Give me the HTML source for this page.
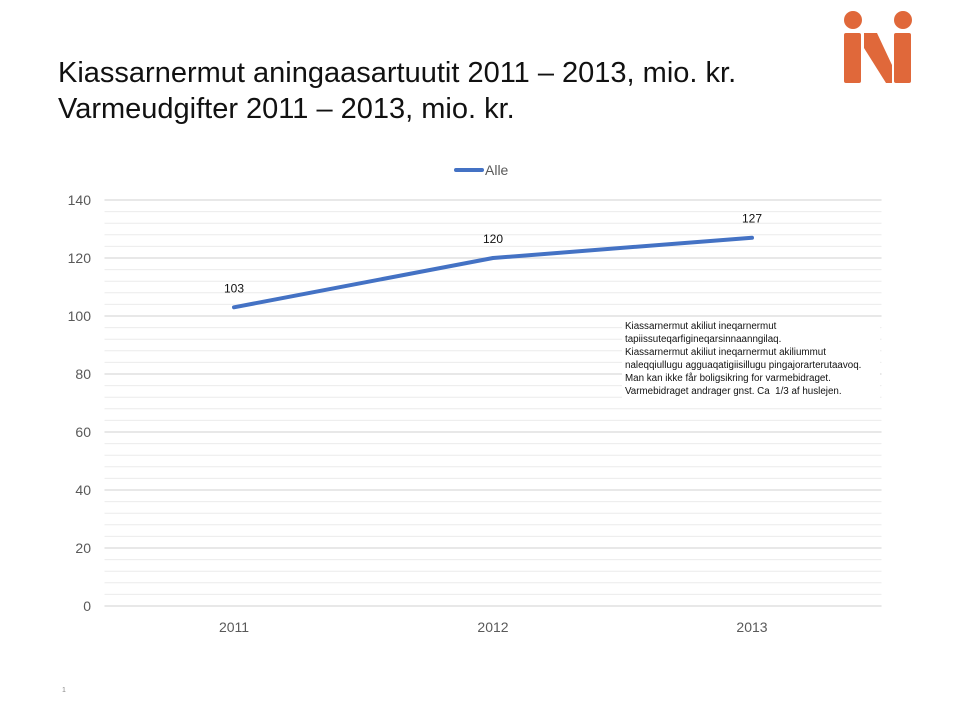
<!DOCTYPE html>
<html><head><meta charset="utf-8"><style>
body{margin:0;width:960px;height:720px;background:#fff;font-family:"Liberation Sans",sans-serif;position:relative;overflow:hidden}
.title{position:absolute;left:58px;top:55px;font-size:29px;line-height:36px;color:#111}
.note{position:absolute;left:622px;top:319px;width:252px;background:#fff;font-size:9.8px;line-height:13px;color:#111;padding:1px 3px}
</style></head><body>
<div class="title">Kiassarnermut aningaasartuutit 2011 – 2013, mio. kr.<br>Varmeudgifter 2011 – 2013, mio. kr.</div>
<svg style="position:absolute;left:842px;top:10px" width="72" height="74" viewBox="0 0 72 74">
<g fill="#e0683a">
<circle cx="11" cy="10" r="9"/><circle cx="61" cy="10" r="9"/>
<rect x="2" y="23" width="17" height="50" rx="2"/>
<rect x="52" y="23" width="17" height="50" rx="2"/>
<polygon points="22,23 35,23 50,55 50,73 44,73 22,38"/>
</g></svg>
<svg id="chart" width="960" height="720" style="position:absolute;left:0;top:0"></svg>
<div class="note">Kiassarnermut akiliut ineqarnermut<br>tapiissuteqarfigineqarsinnaanngilaq.<br>Kiassarnermut akiliut ineqarnermut akiliummut<br>naleqqiullugu agguaqatigiisillugu pingajorarterutaavoq.<br>Man kan ikke får boligsikring for varmebidraget.<br>Varmebidraget andrager gnst. Ca&nbsp; 1/3 af huslejen.</div>
<script>
const categories=["2011","2012","2013"];
const values=[103,120,127];
const yTicks=[0,20,40,60,80,100,120,140];
const seriesName="Alle";
const svg=document.getElementById('chart');
const NS="http://www.w3.org/2000/svg";
const x0=104.5,x1=881.5,yBase=606,yTop=200,yMax=140;
const y=v=>yBase-(v/yMax)*(yBase-yTop);
const bw=(x1-x0)/categories.length;
const x=i=>x0+bw*(i+0.5);
function mk(t,a){const e=document.createElementNS(NS,t);for(const k in a)e.setAttribute(k,a[k]);svg.appendChild(e);return e;}
for(let v=0;v<=yMax;v+=4){
 const major=v%20===0;
 const l=mk('line',{x1:x0,x2:x1,y1:y(v),y2:y(v),stroke:major?'#d9d9d9':'#ececec','stroke-width':major?1.2:1});
 
 
}
yTicks.forEach(v=>{
 const t=mk('text',{x:91,y:y(v)+5,'text-anchor':'end','font-size':14,fill:'#595959','font-family':'Liberation Sans, sans-serif'});
 t.textContent=v;
 
 
});
categories.forEach((c,i)=>{
 const t=mk('text',{x:x(i),y:632,'text-anchor':'middle','font-size':14,fill:'#595959','font-family':'Liberation Sans, sans-serif'});
 t.textContent=c;
 
 
});
const pts=values.map((v,i)=>x(i)+','+y(v)).join(' ');
const pl=mk('polyline',{points:pts,fill:'none',stroke:'#4472c4','stroke-width':4,'stroke-linecap':'round','stroke-linejoin':'round'});


values.forEach((v,i)=>{
 const t=mk('text',{x:x(i),y:y(v)-15,'text-anchor':'middle','font-size':12,fill:'#111','font-family':'Liberation Sans, sans-serif'});
 t.textContent=v;
 
 
});
const ll=mk('line',{x1:456,x2:482,y1:170,y2:170,stroke:'#4472c4','stroke-width':4,'stroke-linecap':'round'});


const lt=mk('text',{x:485,y:175,'font-size':14,fill:'#595959','font-family':'Liberation Sans, sans-serif'});
lt.textContent=seriesName;


const pn=mk('text',{x:62,y:692,'font-size':7,fill:'#888'});
pn.textContent="1";


</script>
</body></html>
